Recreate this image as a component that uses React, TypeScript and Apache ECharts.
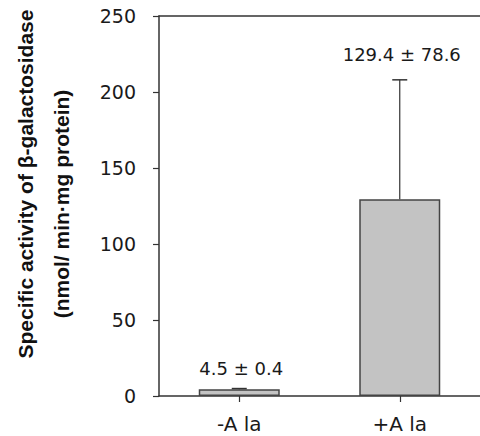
import React, { useEffect, useRef } from "react";
import * as echarts from "echarts";

const categories = ["-A la", "+A la"];
const means = [4.5, 129.4];
const errors = [0.4, 78.6];
const yTicks = { min: 0, max: 250, interval: 50 };
const titleLine1 = "Specific activity of β-galactosidase";
const titleLine2 = "(nmol/ min·mg protein)";

const labelLift = [20, 25];

export default function App() {
  const ref = useRef<HTMLDivElement>(null);
  useEffect(() => {
    if (!ref.current) return;
    const chart = echarts.init(ref.current, null, { renderer: "svg" });
    const axisColor = "#333";
    const textColor = "#1a1a1a";
    const errData = means.map((m, i) => [i, m, errors[i]]);
    chart.setOption({
      animation: false,
      grid: { left: 159, top: 16, bottom: 40, width: 326 },
      xAxis: [
        {
          type: "category",
          data: categories,
          axisLine: { show: true, lineStyle: { color: axisColor, width: 1.5 } },
          axisTick: { show: true, alignWithLabel: true, length: 6, lineStyle: { color: axisColor, width: 1.2 } },
          axisLabel: { color: textColor, fontSize: 20, fontFamily: "DejaVu Sans", margin: 18 },
        },
        {
          type: "category",
          position: "top",
          data: categories,
          axisLine: { show: true, lineStyle: { color: axisColor, width: 1.5 } },
          axisTick: { show: false },
          axisLabel: { show: false },
        },
      ],
      yAxis: {
        type: "value",
        min: yTicks.min,
        max: yTicks.max,
        interval: yTicks.interval,
        axisLine: { show: true, lineStyle: { color: axisColor, width: 1.5 } },
        axisTick: { show: true, length: 6, lineStyle: { color: axisColor, width: 1.2 } },
        axisLabel: { color: textColor, fontSize: 19, fontFamily: "DejaVu Sans", margin: 23 },
        splitLine: { show: false },
      },
      series: [
        {
          type: "bar",
          data: means,
          barWidth: 81,
          itemStyle: { color: "#c3c3c3", borderColor: "#444", borderWidth: 1.5 },
        },
        {
          type: "custom",
          data: errData,
          z: 5,
          renderItem: (params: any, api: any) => {
            const i = api.value(0);
            const m = api.value(1);
            const e = api.value(2);
            const base = api.coord([i, m]);
            const top = api.coord([i, m + e]);
            const hw = 7.5;
            return {
              type: "group",
              children: [
                {
                  type: "line",
                  shape: { x1: top[0], y1: base[1], x2: top[0], y2: top[1] },
                  style: { stroke: "#333", lineWidth: 1.2 },
                },
                {
                  type: "line",
                  shape: { x1: top[0] - hw, y1: top[1], x2: top[0] + hw, y2: top[1] },
                  style: { stroke: "#333", lineWidth: 1.5 },
                },
                {
                  type: "text",
                  x: top[0] + 2,
                  y: top[1] - labelLift[params.dataIndex],
                  style: {
                    text: `${m.toFixed(1)} ± ${e.toFixed(1)}`,
                    align: "center",
                    verticalAlign: "middle",
                    fontSize: 18,
                    fontFamily: "DejaVu Sans",
                    fill: textColor,
                  },
                },
              ],
            };
          },
        },
      ],
      graphic: [
        {
          type: "text",
          x: 25,
          y: 184,
          rotation: Math.PI / 2,
          style: {
            text: titleLine1,
            align: "center",
            verticalAlign: "middle",
            fontSize: 21,
            fontWeight: "bold",
            fontFamily: "Liberation Sans",
            fill: "#111",
          },
        },
        {
          type: "text",
          x: 61,
          y: 204,
          rotation: Math.PI / 2,
          style: {
            text: titleLine2,
            align: "center",
            verticalAlign: "middle",
            fontSize: 21,
            fontWeight: "bold",
            fontFamily: "Liberation Sans",
            fill: "#111",
          },
        },
      ],
    });
    return () => chart.dispose();
  }, []);
  return (
    <div
      ref={ref}
      style={{ position: "fixed", left: 0, top: 0, width: 480, height: 436, background: "#fff" }}
    />
  );
}
